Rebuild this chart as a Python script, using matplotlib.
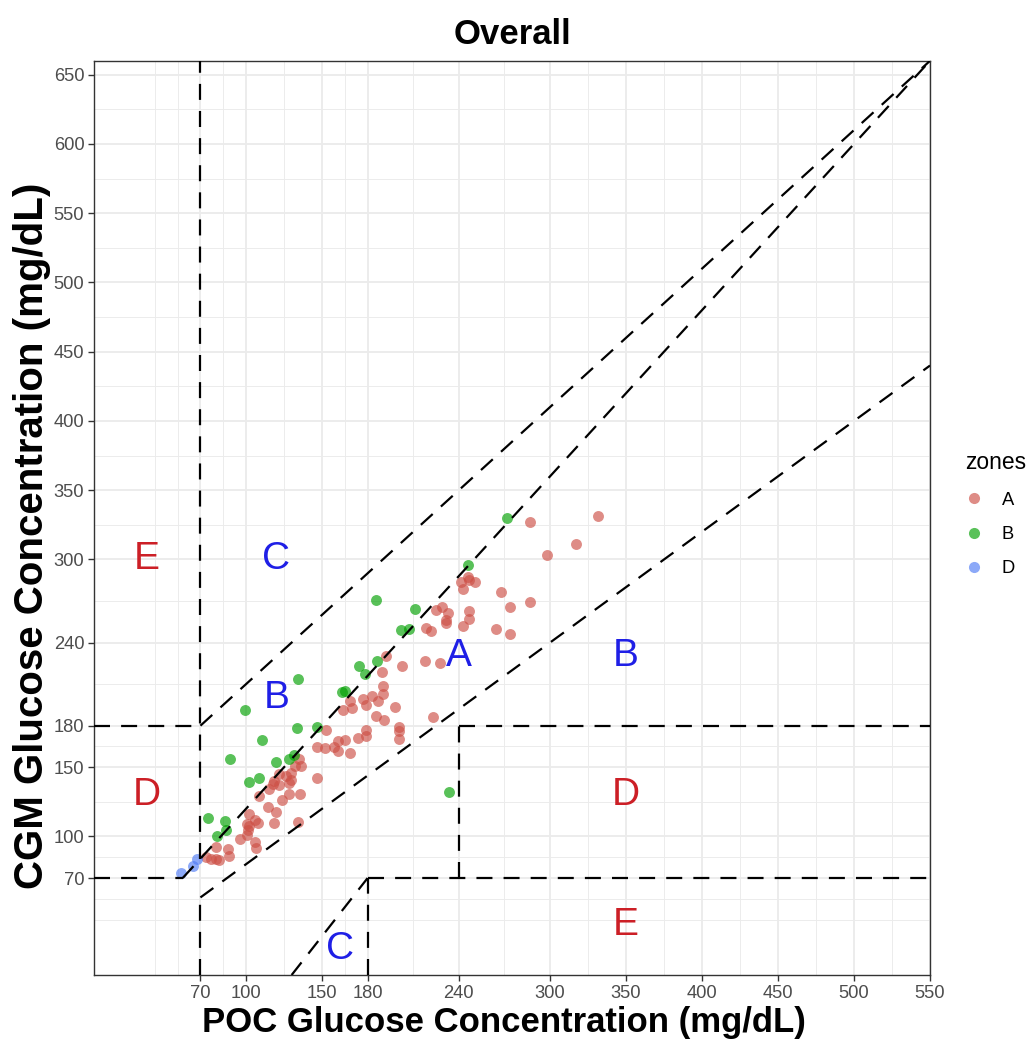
import numpy as np
import matplotlib
matplotlib.use("Agg")
import matplotlib.pyplot as plt
from matplotlib.lines import Line2D

plt.rcParams['font.family'] = ['Liberation Sans', 'DejaVu Sans']

# --- datos (POC = referencia, CGM = sensor) ---
poc_a = [73.5, 76.8, 80, 82.5, 80, 88, 88.6, 96, 100.5, 106, 106.6, 101, 100.5, 102,
         102, 108, 106, 114.5, 120, 118.5, 108.4, 115.4, 117.6, 122, 123.8, 128, 135.6,
         129.7, 134.5, 129.7, 132, 147,
         168.5, 163.7, 170, 176.8, 179, 152.7, 146.4, 152, 158.2, 160.4, 164.8, 160.4,
         168.5, 173.5, 179, 179, 135, 136, 126.4, 118.7, 122, 128.5,
         191.8, 202.8, 217.5, 227.8, 189.6, 190, 190, 183, 186.8, 197.7, 185.6, 191,
         223, 200.6, 200.6, 200.6,
         287, 331.8, 316.9, 298, 241.2, 246, 247, 250.4, 243, 268, 287, 274, 224.7,
         229, 232.8, 231.7, 231.7, 247, 247, 242.7, 218.6, 221.9, 264.6, 274]
cgm_a = [85, 84, 84, 83, 92.7, 91, 86, 98, 101, 96, 92, 104.7, 108.8, 107.6,
         116, 109.5, 112, 121, 117.6, 110, 129, 134, 137.6, 144.8, 126.3, 130.4, 130.4,
         140.7, 110.4, 146, 150.8, 142.4,
         197.6, 191, 192.9, 199.3, 195.2, 176.7, 164.8, 164, 164.8, 168.8, 170, 161.6,
         160.4, 171.3, 172.4, 177.2, 155.6, 150.8, 143.6, 140, 136.9, 138.8,
         230.5, 223.3, 226.4, 225.3, 218.5, 208.9, 203.2, 201.2, 197.6, 193.6, 187.3, 184.4,
         186.4, 179.2, 176, 170.5,
         327, 331.4, 311.2, 303, 283.4, 287.2, 285.3, 283.4, 278.6, 276.2, 269.5, 266, 263.7,
         266, 261.3, 256.5, 254.1, 262.5, 257.2, 252.2, 250.4, 248, 250, 245.9]

poc_b = [74.8, 86.4, 86.8, 81, 102, 108.5, 89.6, 119.5, 128.5, 131.7, 134.5, 99.6, 163,
         165, 133.4, 146.6, 110.3, 174.6, 178.4, 185.6, 211.5, 202, 207, 186.3, 271.6,
         246, 233.7]
cgm_b = [113, 111, 105, 100, 139, 142, 156, 154, 156, 159, 214, 191, 204,
         205, 178, 179, 170, 223, 217, 271, 264, 249, 250, 227, 330,
         296, 132]

poc_d = [57, 65, 68]
cgm_d = [74, 79, 84]

zonas = ['A', 'B', 'D']
colores = ['#CD4F45', '#00A000', '#4F7BF5']

# letras de las zonas
letras = ['E', 'C', 'B', 'A', 'B', 'D', 'D', 'E', 'C']
letras_x = [35, 120, 120, 240, 350, 35, 350, 350, 162]
letras_y = [300, 300, 200, 230, 230, 130, 130, 36, 19]
letras_c = ['#CC1F26', '#1F1FE6', '#1F1FE6', '#1F1FE6', '#1F1FE6',
            '#CC1F26', '#CC1F26', '#CC1F26', '#1F1FE6']

# limites de la rejilla de Clarke
segmentos = [((0, 180), (70, 180)), ((70, 180), (550, 660)), ((70, 84), (70, 660)),
             ((0, 70), (58.33, 70)), ((58.33, 70), (550, 660)), ((70, 56), (550, 440)),
             ((70, 0), (70, 56)), ((180, 70), (550, 70)), ((240, 70), (240, 180)),
             ((240, 180), (550, 180)), ((180, 0), (180, 70)), ((130, 0), (180, 70))]

xticks = [70, 100, 150, 180, 240, 300, 350, 400, 450, 500, 550]
yticks = [70, 100, 150, 180, 240, 300, 350, 400, 450, 500, 550, 600, 650]
xminor = [40, 55, 85, 125, 165, 210, 270, 325, 375, 425, 475, 525]
yminor = [40, 55, 85, 125, 165, 210, 270, 325, 375, 425, 475, 525, 575, 625]

fig = plt.figure(figsize=(10.3, 10.4), dpi=100)
ax = fig.add_axes([0.0913, 0.0625, 0.8116, 0.879])

# puntos
for z, c, xs, ys in zip(zonas, colores, [poc_a, poc_b, poc_d], [cgm_a, cgm_b, cgm_d]):
    ax.scatter(xs, ys, s=62, color=c, alpha=0.65, linewidths=0, zorder=3)

# lineas de la rejilla
for (x1, y1), (x2, y2) in segmentos:
    ax.plot([x1, x2], [y1, y2], color='black', lw=1.6, linestyle=(0, (7.2, 5.0)),
            zorder=4, solid_capstyle='butt', dash_capstyle='butt')

for t, x, y, c in zip(letras, letras_x, letras_y, letras_c):
    ax.text(x, y, t, color=c, fontsize=28, ha='center', va='center', zorder=5)

ax.set_xlim(0, 550)
ax.set_ylim(0, 660)
ax.set_xticks(xticks)
ax.set_yticks(yticks)
ax.set_xticks(xminor, minor=True)
ax.set_yticks(yminor, minor=True)
ax.grid(which='major', color='#EBEBEB', lw=1.3, zorder=0)
ax.grid(which='minor', color='#EBEBEB', lw=0.65, zorder=0)
ax.set_axisbelow(True)
ax.tick_params(which='major', length=4, width=1, color='#333333',
               labelcolor='#4D4D4D', labelsize=13.2, pad=3)
ax.tick_params(which='minor', length=0)
for s in ax.spines.values():
    s.set_color('#333333')
    s.set_linewidth(1)

ax.set_title('Overall', fontsize=25, fontweight='bold', pad=12)
ax.set_xlabel('POC Glucose Concentration (mg/dL)', fontsize=25, fontweight='bold')
ax.set_ylabel('CGM Glucose Concentration (mg/dL)', fontsize=29, fontweight='bold')
ax.xaxis.set_label_coords(0.49, -0.034)
ax.yaxis.set_label_coords(-0.052, 0.48)

handles = [Line2D([], [], marker='o', linestyle='', color=c, alpha=0.65,
                  markersize=8, markeredgewidth=0) for c in colores]
fig.legend(handles, zonas, title='zones', loc='upper left', bbox_to_anchor=(0.928, 0.575),
           frameon=False, fontsize=13.2, title_fontsize=16.5, alignment='left',
           handlelength=1.0, handletextpad=1.0, labelspacing=0.95, borderpad=0)

fig.savefig('out.png', dpi=100)
